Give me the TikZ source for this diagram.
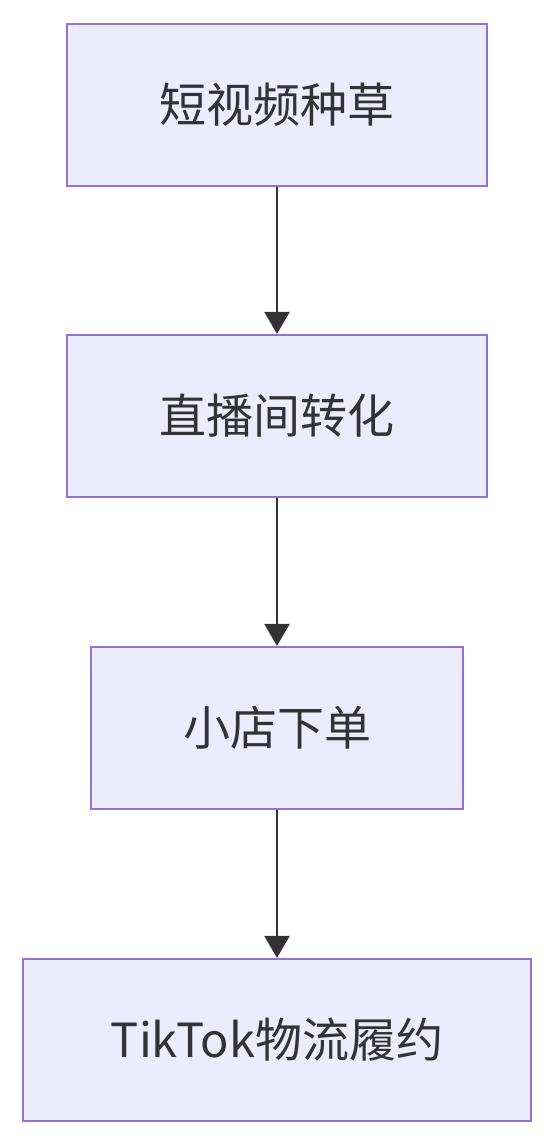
\documentclass[tikz,border=0pt]{standalone}
\usepackage{fontspec}
\setmainfont{Noto Sans CJK SC}
\usetikzlibrary{arrows.meta}
\definecolor{boxfill}{HTML}{ECECFF}
\definecolor{boxline}{HTML}{9370DB}
\definecolor{linkgray}{HTML}{333333}
\begin{document}
\begin{tikzpicture}[
	step box/.style={
		rectangle,
		draw=boxline,
		line width=2.2pt,
		fill=boxfill,
		align=center,
		text=linkgray,
		inner sep=0pt,
		minimum height=162pt,
		font=\fontsize{47}{51}\selectfont
	},
	link/.style={
		draw=linkgray,
		line width=2.6pt,
		-{Triangle[width=25pt,length=22pt]}
	},
]

\useasboundingbox (0,0) rectangle (555pt,1146pt);

%% Nodes %%
\node[step box, minimum width=420pt] (video) at (277pt,1041pt) {短视频种草};
\node[step box, minimum width=420pt] (live) at (277pt,730pt) {直播间转化};
\node[step box, minimum width=372pt] (shop) at (277pt,418pt) {小店下单};
\node[step box, minimum width=508pt] (ship) at (277pt,106pt) {TikTok物流履约};

%% Connection arrows %%
\draw[link] (video) -- (live);
\draw[link] (live) -- (shop);
\draw[link] (shop) -- (ship);

\end{tikzpicture}
\end{document}
